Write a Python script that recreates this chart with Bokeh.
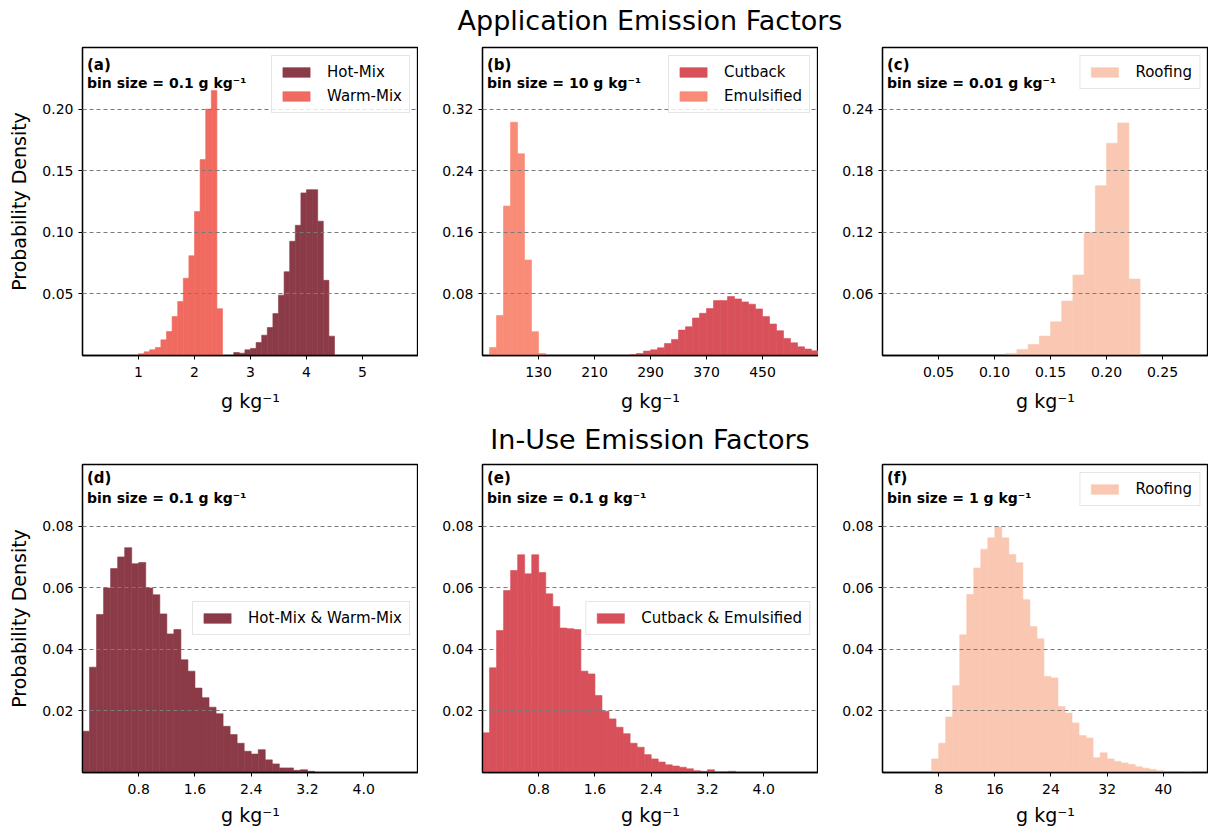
from bokeh.plotting import figure
from bokeh.layouts import column, row
from bokeh.models import FixedTicker, NumeralTickFormatter, Label, Div, Spacer, Range1d
from bokeh.embed import file_html
from bokeh.resources import INLINE

FONT = "DejaVu Sans"

# ---------------- data ----------------
# (a) Application: Hot-Mix / Warm-Mix, bin size 0.1 g/kg
hot_mix_start, hot_mix_bin = 2.7, 0.1
hot_mix_density = [0.0024, 0.0019, 0.0046, 0.0057, 0.0105, 0.0165, 0.0227, 0.034, 0.049,
                   0.068, 0.0927, 0.1057, 0.132, 0.1346, 0.1346, 0.109, 0.061, 0.0157]
warm_mix_start, warm_mix_bin = 1.0, 0.1
warm_mix_density = [0.0014, 0.003, 0.0046, 0.0065, 0.0127, 0.0195, 0.0316, 0.0438, 0.0627,
                    0.081, 0.1168, 0.159, 0.200, 0.215, 0.038]

# (b) Application: Cutback / Emulsified, bin size 10 g/kg
cutback_start, cutback_bin = 260, 10
cutback_density = [0.0009, 0.0026, 0.0057, 0.0074, 0.010, 0.0157, 0.0209, 0.033, 0.0374,
                   0.0487, 0.0548, 0.0609, 0.0713, 0.0713, 0.0766, 0.0735, 0.0696, 0.0666,
                   0.0605, 0.0505, 0.0409, 0.0322, 0.0222, 0.0165, 0.0113, 0.0083, 0.0061]
emulsified_start, emulsified_bin = 60, 10
emulsified_density = [0.0104, 0.052, 0.194, 0.303, 0.262, 0.124, 0.031, 0.0026]

# (c) Application: Roofing, bin size 0.01 g/kg
roof_app_start, roof_app_bin = 0.11, 0.01
roof_app_density = [0.002, 0.0059, 0.0107, 0.0189, 0.0328, 0.053, 0.0783, 0.12, 0.1654,
                    0.2067, 0.2265, 0.0744]

# (d) In-use: Hot-Mix & Warm-Mix, bin size 0.1 g/kg
hw_start, hw_bin = 0.0, 0.1
hw_density = [0.0134, 0.0342, 0.0513, 0.0599, 0.0662, 0.070, 0.073, 0.0678, 0.0682, 0.0599,
              0.0577, 0.0515, 0.045, 0.0464, 0.0366, 0.0329, 0.0274, 0.0243, 0.0212, 0.0191,
              0.015, 0.0123, 0.0095, 0.0069, 0.006, 0.0074, 0.0041, 0.0028, 0.0015, 0.0015,
              0.0007, 0.0009, 0.0004]

# (e) In-use: Cutback & Emulsified, bin size 0.1 g/kg
ce_start, ce_bin = 0.0, 0.1
ce_density = [0.0129, 0.034, 0.0461, 0.0591, 0.0656, 0.0707, 0.0645, 0.0707, 0.0649, 0.058,
              0.0539, 0.0469, 0.0467, 0.0464, 0.0329, 0.032, 0.025, 0.0199, 0.0174, 0.0147,
              0.0126, 0.0095, 0.0082, 0.0058, 0.0044, 0.0034, 0.0025, 0.0021, 0.0017, 0.0012,
              0.0006, 0.0004, 0.0009, 0.0002, 0.0002, 0.0004]

# (f) In-use: Roofing, bin size 1 g/kg
roof_use_start, roof_use_bin = 7, 1
roof_use_density = [0.0044, 0.0095, 0.018, 0.0282, 0.0447, 0.0578, 0.0664, 0.0725, 0.0762,
                    0.0797, 0.0762, 0.0708, 0.0681, 0.0561, 0.0474, 0.0434, 0.0312, 0.0307,
                    0.0214, 0.0193, 0.0161, 0.012, 0.0112, 0.0048, 0.0064, 0.0044, 0.0036,
                    0.0031, 0.0026, 0.0019, 0.0014, 0.001, 0.0006, 0.0003, 0.0002, 0.0002,
                    0.0004]

# ticks
a_xticks = [1, 2, 3, 4, 5]
a_yticks = [0.05, 0.10, 0.15, 0.20]
b_xticks = [130, 210, 290, 370, 450]
b_yticks = [0.08, 0.16, 0.24, 0.32]
c_xticks = [0.05, 0.10, 0.15, 0.20, 0.25]
c_yticks = [0.06, 0.12, 0.18, 0.24]
de_xticks = [0.8, 1.6, 2.4, 3.2, 4.0]
f_xticks = [8, 16, 24, 32, 40]
def_yticks = [0.02, 0.04, 0.06, 0.08]

# colours
C_HOT = "#8b3a47"
C_WARM = "#f06a5f"
C_CUT = "#d7505a"
C_EMU = "#f98c76"
C_ROOF = "#fac8b2"

FRAME_H = 308
FRAME_W = 336
FRAME_W_C = 326


def panel(xr, yr, xticks, yticks, xfmt, yfmt, width, height, left, bottom,
          ylabel=False, lbl_standoff=10, tick_standoff=7):
    p = figure(width=width, height=height, x_range=Range1d(*xr), y_range=Range1d(*yr),
               output_backend="svg", toolbar_location=None,
               min_border_left=left, min_border_right=0, min_border_top=9,
               min_border_bottom=bottom)
    p.background_fill_color = "white"
    p.border_fill_color = "white"
    p.outline_line_color = "black"
    p.outline_line_width = 1.3
    p.xgrid.visible = False
    yt = FixedTicker(ticks=yticks, minor_ticks=[])
    xt = FixedTicker(ticks=xticks, minor_ticks=[])
    p.yaxis.ticker = yt
    p.ygrid.ticker = yt
    p.xaxis.ticker = xt
    p.ygrid.grid_line_color = "#7a7a7a"
    p.ygrid.grid_line_dash = "4 3"
    p.ygrid.grid_line_width = 1.2
    p.ygrid.level = "guide"
    p.xaxis.formatter = NumeralTickFormatter(format=xfmt)
    p.yaxis.formatter = NumeralTickFormatter(format=yfmt)
    for ax in (p.xaxis[0], p.yaxis[0]):
        ax.axis_line_color = "black"
        ax.axis_line_width = 1.3
        ax.major_tick_line_color = "black"
        ax.major_tick_in = 0
        ax.major_tick_out = 4
        ax.minor_tick_line_color = None
        ax.major_label_text_font = FONT
        ax.major_label_text_font_size = "14px"
        ax.major_label_text_color = "black"
        ax.axis_label_text_font = FONT
        ax.axis_label_text_font_size = "19px"
        ax.axis_label_text_font_style = "normal"
        ax.axis_label_text_color = "black"
    p.xaxis.major_label_standoff = tick_standoff
    p.yaxis.major_label_standoff = 5
    p.xaxis.axis_label = "g kg⁻¹"
    p.xaxis.axis_label_standoff = lbl_standoff
    if ylabel:
        p.yaxis.axis_label = "Probability Density"
        p.yaxis.axis_label_standoff = 9
    return p


def hist(p, start, binw, dens, color, label):
    left = [start + i * binw for i in range(len(dens))]
    right = [start + (i + 1) * binw for i in range(len(dens))]
    p.quad(left=left, right=right, bottom=0, top=dens, fill_color=color,
           line_color=color, line_width=0.6, legend_label=label)


def texts(p, xr, yr, frame_w, tag, binsize, dy1, dy2):
    for txt, dy, size in ((tag, dy1, 15), (binsize, dy2, 14)):
        x = xr[0] + (xr[1] - xr[0]) * 4.5 / frame_w
        y = yr[1] - (yr[1] - yr[0]) * dy / FRAME_H
        p.add_layout(Label(x=x, y=y, text=txt, text_font=FONT, text_font_style="bold",
                           text_font_size=f"{size}px", text_baseline="top",
                           text_align="left", text_color="black"))


def style_legend(p, loc):
    lg = p.legend[0]
    lg.location = loc
    lg.margin = 8
    lg.padding = 7
    lg.spacing = 6
    lg.label_height = 18
    lg.glyph_width = 34
    lg.glyph_height = 12
    lg.label_standoff = 14
    lg.label_text_font = FONT
    lg.label_text_font_size = "15px"
    lg.label_text_color = "black"
    lg.border_line_color = "#cccccc"
    lg.border_line_width = 1
    lg.background_fill_alpha = 0.8
    lg.background_fill_color = "white"


B1 = 62
B2 = 58
H1 = 9 + FRAME_H + B1
H2 = 9 + FRAME_H + B2
WA = 82 + FRAME_W
WB = 64 + FRAME_W
WC = 64 + FRAME_W_C

# ---- row 1 ----
a_xr, a_yr = (0, 6), (0, 0.25)
pa = panel(a_xr, a_yr, a_xticks, a_yticks, "0", "0.00", WA, H1, 82, B1, ylabel=True)
hist(pa, hot_mix_start, hot_mix_bin, hot_mix_density, C_HOT, "Hot-Mix")
hist(pa, warm_mix_start, warm_mix_bin, warm_mix_density, C_WARM, "Warm-Mix")
texts(pa, a_xr, a_yr, FRAME_W, "(a)", "bin size = 0.1 g kg⁻¹", 8.5, 27)
style_legend(pa, "top_right")

b_xr, b_yr = (50, 530), (0, 0.40)
pb = panel(b_xr, b_yr, b_xticks, b_yticks, "0", "0.00", WB, H1, 64, B1)
hist(pb, cutback_start, cutback_bin, cutback_density, C_CUT, "Cutback")
hist(pb, emulsified_start, emulsified_bin, emulsified_density, C_EMU, "Emulsified")
texts(pb, b_xr, b_yr, FRAME_W, "(b)", "bin size = 10 g kg⁻¹", 8.5, 27)
style_legend(pb, "top_right")

c_xr, c_yr = (0, 0.3 * FRAME_W_C / FRAME_W), (0, 0.30)
pc = panel(c_xr, c_yr, c_xticks, c_yticks, "0.00", "0.00", WC, H1, 64, B1)
hist(pc, roof_app_start, roof_app_bin, roof_app_density, C_ROOF, "Roofing")
texts(pc, c_xr, c_yr, FRAME_W_C, "(c)", "bin size = 0.01 g kg⁻¹", 8.5, 27)
style_legend(pc, "top_right")

# ---- row 2 ----
d_xr, d_yr = (0, 4.78), (0, 0.10)
pd_ = panel(d_xr, d_yr, de_xticks, def_yticks, "0.0", "0.00", WA, H2, 82, B2,
            ylabel=True, lbl_standoff=7)
hist(pd_, hw_start, hw_bin, hw_density, C_HOT, "Hot-Mix & Warm-Mix")
texts(pd_, d_xr, d_yr, FRAME_W, "(d)", "bin size = 0.1 g kg⁻¹", 4.5, 25.5)
style_legend(pd_, "center_right")

e_xr, e_yr = (0, 4.78), (0, 0.10)
pe = panel(e_xr, e_yr, de_xticks, def_yticks, "0.0", "0.00", WB, H2, 64, B2,
           lbl_standoff=7)
hist(pe, ce_start, ce_bin, ce_density, C_CUT, "Cutback & Emulsified")
texts(pe, e_xr, e_yr, FRAME_W, "(e)", "bin size = 0.1 g kg⁻¹", 4.5, 25.5)
style_legend(pe, "center_right")

f_xr, f_yr = (0, FRAME_W_C / 7.02), (0, 0.10)
pf = panel(f_xr, f_yr, f_xticks, def_yticks, "0", "0.00", WC, H2, 64, B2,
           lbl_standoff=7)
hist(pf, roof_use_start, roof_use_bin, roof_use_density, C_ROOF, "Roofing")
texts(pf, f_xr, f_yr, FRAME_W_C, "(f)", "bin size = 1 g kg⁻¹", 4.5, 25.5)
style_legend(pf, "top_right")


def title_div(text, h, lh):
    return Div(text=text, width=464, height=h, margin=0,
               styles={"font-family": FONT, "font-size": "27px", "text-align": "center",
                       "line-height": f"{lh}px", "color": "black", "white-space": "nowrap",
                       "overflow": "visible"})


t1 = title_div("Application Emission Factors", 38, 42)
t2 = title_div("In-Use Emission Factors", 38, 46)

layout = column(
    row(Spacer(width=WA, height=38, margin=0), t1, spacing=0),
    row(pa, pb, pc, spacing=0),
    row(Spacer(width=WA, height=38, margin=0), t2, spacing=0),
    row(pd_, pe, pf, spacing=0),
    spacing=0,
)

open("out.html", "w").write(file_html(layout, INLINE, title="Emission factors"))
